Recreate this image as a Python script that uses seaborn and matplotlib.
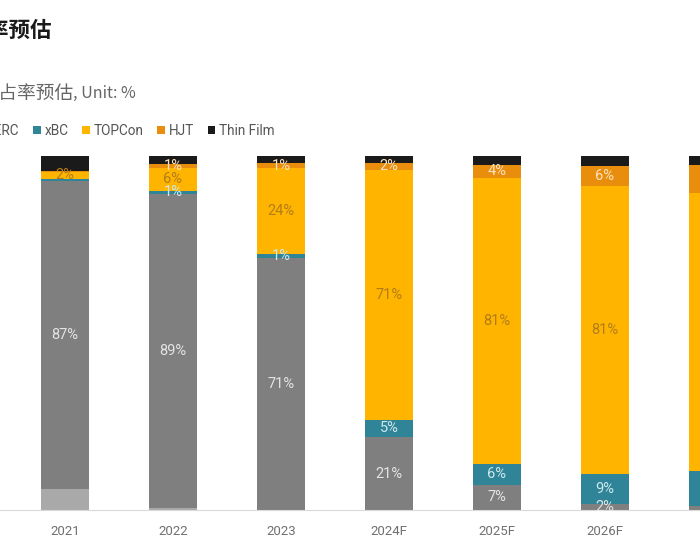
import numpy as np
import matplotlib
matplotlib.use('Agg')
import matplotlib.pyplot as plt
from matplotlib.patches import Patch
import seaborn as sns

sns.set_style("white")
plt.rcParams['font.family'] = ['Roboto', 'Noto Sans CJK SC', 'DejaVu Sans']

# 数据（单位：%）
years = ['2021', '2022', '2023', '2024F', '2025F', '2026F', '2027F']
series = ['Al-BSF', 'PERC', 'xBC', 'TOPCon', 'HJT', 'Thin Film']
al_bsf = [6, 0.7, 0, 0, 0, 0, 0]
perc = [87, 88.7, 71.2, 20.6, 7.1, 1.6, 1.1]
xbc = [0.5, 0.8, 1.1, 4.9, 5.9, 8.6, 9.9]
topcon = [2, 6.4, 24.3, 70.6, 80.8, 81.4, 78.5]
hjt = [0.3, 1, 1.4, 2, 3.7, 5.6, 7.9]
thin_film = [4.2, 2.4, 2, 1.9, 2.5, 2.8, 2.6]
values = [al_bsf, perc, xbc, topcon, hjt, thin_film]

colors = ['#a9a9a9', '#7f7f7f', '#2f8597', '#ffb400', '#e98d0c', '#1a1a1a']
label_colors = [None, '#e4e4e4', '#cfe7ec', '#b27d18', '#fde3c2', None]

title = '光伏电池技术市占率预估'
subtitle_cn = '光伏电池技术市占率预估'
subtitle_unit = ', Unit: %'

fig = plt.figure(figsize=(7, 5.5), dpi=100)
ax = fig.add_axes([0, 40 / 550, 1, 354 / 550])

bottom = np.zeros(len(years))
for name, vals, col, lcol in zip(series, values, colors, label_colors):
    sns.barplot(x=years, y=vals, bottom=bottom, color=col, width=0.45,
                saturation=1, linewidth=0, ax=ax)
    if lcol is not None:
        for i, v in enumerate(vals):
            if v >= 0.75:
                ax.text(i, bottom[i] + v / 2, f'{round(v):d}%', ha='center',
                        va='center', color=lcol, fontsize=10.5)
    bottom = bottom + np.array(vals)

ax.set_ylim(0, 100)
ax.set_xlim(-65 / 108, -65 / 108 + 700 / 108)
ax.set_yticks([])
ax.set_ylabel('')
sns.despine(ax=ax, left=True)
ax.spines['bottom'].set_color('#d9d9d9')
ax.tick_params(axis='x', length=0, pad=11, labelsize=9.5, labelcolor='#707070')

cjk = ['Noto Sans CJK SC', 'DejaVu Sans']
fig.text(52 / 700, 1 - 30 / 550, title, ha='right', va='center',
         fontsize=15.5, fontweight='bold', color='#1a1a1a', family=cjk)
fig.text(74 / 700, 1 - 93 / 550, subtitle_cn, ha='right', va='center',
         fontsize=13.5, color='#666666', family=cjk)
fig.text(73 / 700, 1 - 93 / 550, subtitle_unit, ha='left', va='center',
         fontsize=11.5, color='#666666', family=cjk)

handles = [Patch(facecolor=c, edgecolor='none') for c in colors]
fig.legend(handles, series, loc='center left', ncol=6, frameon=False,
           bbox_to_anchor=(-103 / 700, 1 - 131 / 550), fontsize=9.8,
           handlelength=0.55, handleheight=0.55, handletextpad=0.3,
           columnspacing=1.0, labelcolor='#555555')

fig.savefig('out.png', dpi=100)
